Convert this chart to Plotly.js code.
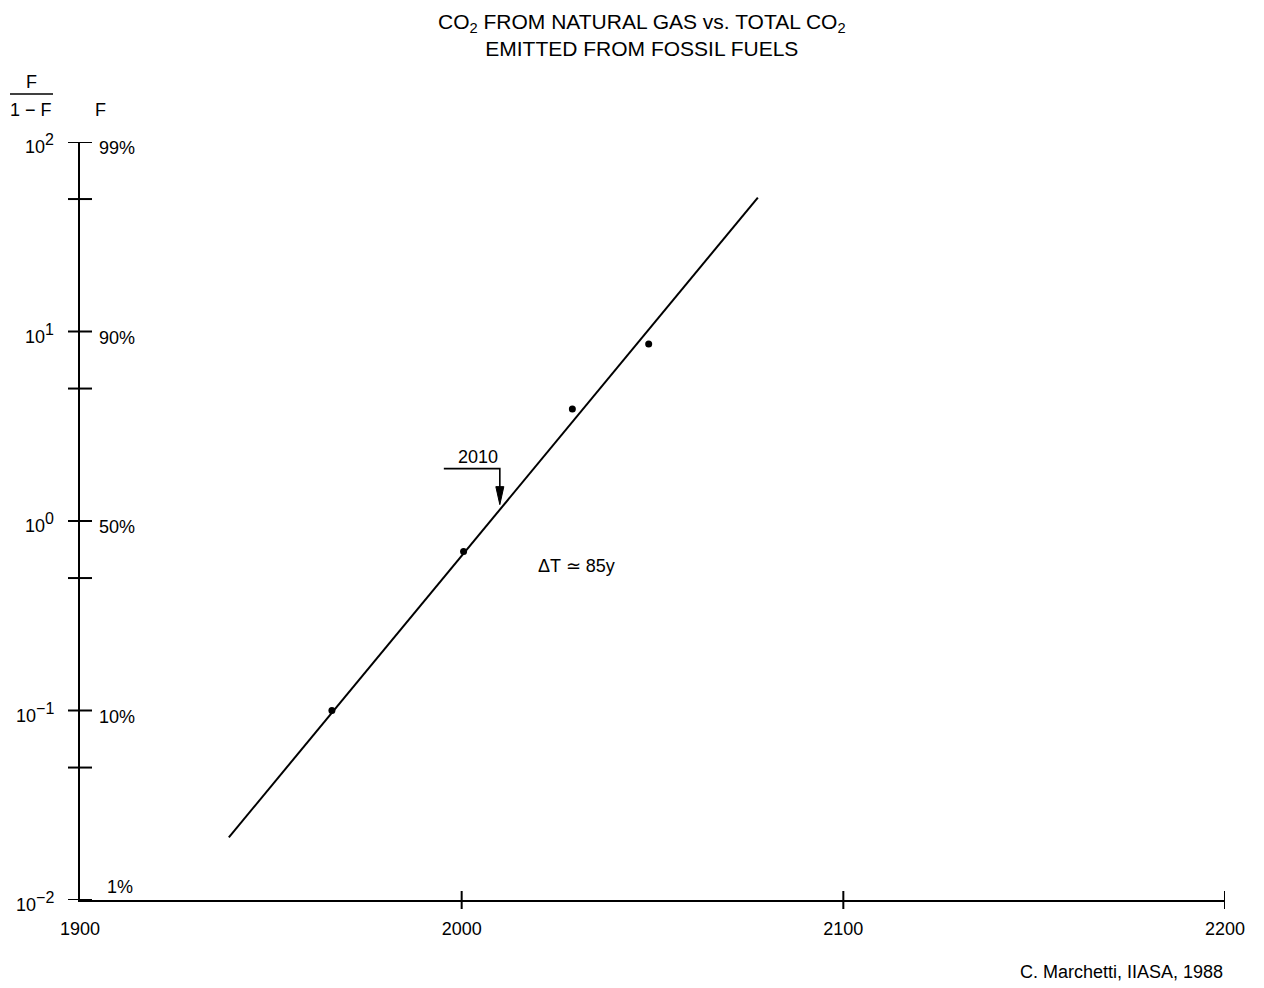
<!DOCTYPE html>
<html>
<head>
<meta charset="utf-8">
<script src="https://cdn.plot.ly/plotly-3.0.1.min.js"></script>
<style>
  html, body { margin: 0; padding: 0; background: #fff; }
  #chart { width: 1264px; height: 988px; }
</style>
</head>
<body>
<div id="chart"></div>
<script>
// Share of natural gas in CO2 emitted from fossil fuels, plotted as F/(1-F)
const obsYears = [1966, 2000.5, 2029, 2049];
const obsRatio = [0.10, 0.69, 3.9, 8.6];

// Fitted logistic: a straight line on the log F/(1-F) scale
const fitYears = [1939, 2077.6];
const fitRatio = [0.0214, 50.9];

// Axis ticks and their labels
const yearTicks = [1900, 2000, 2100, 2200];
const ratioTicks = [0.01, 0.1, 1, 10, 100];
const ratioExponents = ['−2', '−1', '0', '1', '2'];
const shareLabels = ['1%', '10%', '50%', '90%', '99%'];
const halfTicks = [0.05, 0.5, 5, 50];

// Half-way point marker
const midYear = 2010;
const midRatio = 1.22;

const FONT = '"Liberation Sans", Arial, sans-serif';
const INK = '#000';

const traces = [
  {
    x: fitYears, y: fitRatio, type: 'scatter', mode: 'lines',
    line: { color: INK, width: 2 }, hoverinfo: 'skip'
  },
  {
    x: obsYears, y: obsRatio, type: 'scatter', mode: 'markers',
    marker: { color: INK, size: 7 }, hoverinfo: 'skip'
  }
];

const shapes = [];
// crossing ticks on the vertical axis
ratioTicks.concat(halfTicks).forEach(v => {
  shapes.push({
    type: 'line', xref: 'paper', yref: 'y', xsizemode: 'pixel', xanchor: 0,
    x0: -12, x1: 12, y0: v, y1: v, line: { color: INK, width: 2 }
  });
});
// crossing ticks on the time axis
yearTicks.slice(1).forEach(t => {
  shapes.push({
    type: 'line', xref: 'x', yref: 'paper', ysizemode: 'pixel', yanchor: 0,
    x0: t, x1: t, y0: -9, y1: 9, line: { color: INK, width: 2 }
  });
});
// bent arrow pointing at the 50% year
shapes.push({
  type: 'path', xref: 'x', yref: 'y', xsizemode: 'pixel', ysizemode: 'pixel',
  xanchor: midYear, yanchor: midRatio,
  path: 'M -56,36 L 0,36 L 0,16', line: { color: INK, width: 1.6 }
});
shapes.push({
  type: 'path', xref: 'x', yref: 'y', xsizemode: 'pixel', ysizemode: 'pixel',
  xanchor: midYear, yanchor: midRatio,
  path: 'M -4,18 L 4,18 L 0,0 Z', fillcolor: INK, line: { color: INK, width: 1 }
});
// fraction bar of the F/(1-F) heading
shapes.push({
  type: 'line', xref: 'paper', yref: 'paper', xsizemode: 'pixel', ysizemode: 'pixel',
  xanchor: 0, yanchor: 1, x0: -70, x1: -27, y0: 48, y1: 48,
  line: { color: INK, width: 1.5 }
});

const txt = { family: FONT, size: 18, color: INK };
const annotations = [];
ratioTicks.forEach((v, i) => {
  annotations.push({
    xref: 'paper', x: 0, xanchor: 'right', xshift: -24,
    yref: 'y', y: Math.log10(v), yanchor: 'middle', yshift: -2,
    text: '10<sup><span style="font-size:16px">' + ratioExponents[i] + '</span></sup>',
    showarrow: false, font: txt
  });
  const bottom = i === 0;
  annotations.push({
    xref: 'paper', x: 0, xanchor: 'left', xshift: bottom ? 25 : 17,
    yref: 'y', y: Math.log10(v), yanchor: 'middle', yshift: bottom ? 13 : -6,
    text: shareLabels[i], showarrow: false, font: txt
  });
});
annotations.push(
  { xref: 'paper', x: 0.491, xanchor: 'center', yref: 'paper', y: 1, yanchor: 'middle', yshift: 107,
    text: 'CO<sub>2</sub> FROM NATURAL GAS vs. TOTAL CO<sub>2</sub><br>EMITTED FROM FOSSIL FUELS',
    showarrow: false, font: { family: FONT, size: 21, color: INK } },
  { xref: 'paper', x: 0, xanchor: 'center', xshift: -49, yref: 'paper', y: 1, yanchor: 'middle', yshift: 60,
    text: 'F', showarrow: false, font: txt },
  { xref: 'paper', x: 0, xanchor: 'center', xshift: -49, yref: 'paper', y: 1, yanchor: 'middle', yshift: 32,
    text: '1 − F', showarrow: false, font: txt },
  { xref: 'paper', x: 0, xanchor: 'center', xshift: 20, yref: 'paper', y: 1, yanchor: 'middle', yshift: 32,
    text: 'F', showarrow: false, font: txt },
  { xref: 'x', x: midYear, xanchor: 'center', xshift: -22, yref: 'y', y: Math.log10(midRatio), yanchor: 'middle', yshift: 48,
    text: String(midYear), showarrow: false, font: txt },
  { xref: 'x', x: 2030, xanchor: 'center', yref: 'y', y: -0.24, yanchor: 'middle',
    text: 'ΔT ≃ 85y', showarrow: false, font: txt },
  { xref: 'paper', x: 1, xanchor: 'right', yref: 'paper', y: 0, yanchor: 'middle', yshift: -72,
    text: 'C. Marchetti, IIASA, 1988', showarrow: false, font: txt }
);

const layout = {
  width: 1264, height: 988,
  margin: { l: 80, r: 39, t: 142, b: 88 },
  paper_bgcolor: '#fff', plot_bgcolor: '#fff',
  showlegend: false,
  font: txt,
  xaxis: {
    range: [1900, 2200], tickvals: yearTicks, ticktext: yearTicks.map(String),
    ticks: '', showgrid: false, zeroline: false,
    showline: true, linecolor: INK, linewidth: 2,
    tickfont: txt, ticklabelstandoff: 11
  },
  yaxis: {
    type: 'log', range: [-2, 2],
    showticklabels: false, ticks: '', showgrid: false, zeroline: false,
    showline: true, linecolor: INK, linewidth: 2
  },
  shapes: shapes,
  annotations: annotations
};

Plotly.newPlot('chart', traces, layout, { displayModeBar: false, staticPlot: true });
</script>
</body>
</html>
